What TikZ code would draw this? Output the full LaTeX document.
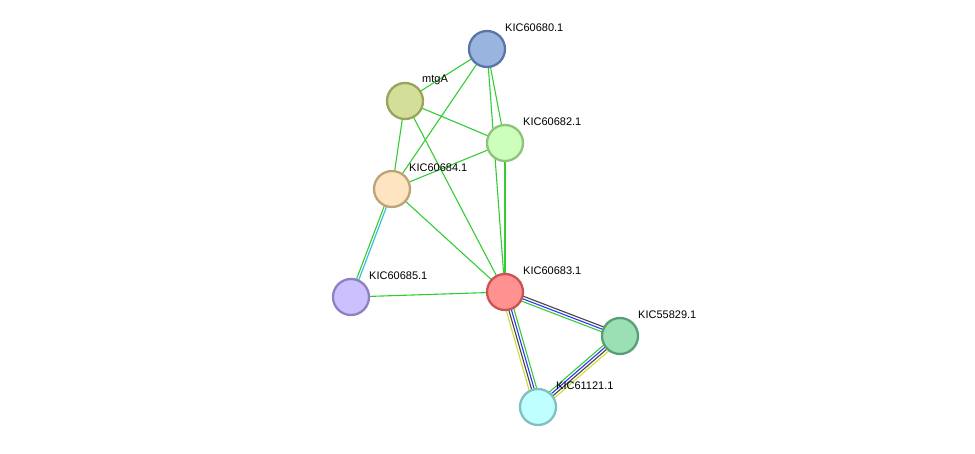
\documentclass[tikz,border=0pt]{standalone}
\usepackage{fontspec}
\setmainfont{Liberation Sans}
\usetikzlibrary{calc}
\begin{document}
\begin{tikzpicture}[x=1pt,y=-1pt,
  prot/.style={circle,minimum size=36pt,inner sep=0pt,line width=2.3pt},
  lab/.style={anchor=west,inner sep=0pt,font=\fontsize{11}{12}\selectfont},
  e/.style={line width=1.1pt}]
\useasboundingbox (0,0) rectangle (975,453);
\coordinate (p680) at (487,49);
\coordinate (pmtg) at (405,101);
\coordinate (p682) at (505,143);
\coordinate (p684) at (392,189);
\coordinate (p685) at (351,297);
\coordinate (p683) at (505,292);
\coordinate (p558) at (620,336);
\coordinate (p611) at (538,407);
\newcommand\medge[4]{\draw[e,#4] ($(#1)!#3!90:(#2)$) -- ($(#2)!#3!-90:(#1)$);}
\definecolor{eg}{HTML}{33CC33}
\definecolor{eb}{HTML}{3333FF}
\definecolor{ek}{HTML}{444444}
\definecolor{ey}{HTML}{CCDD33}
\definecolor{ec}{HTML}{33BBDD}
\foreach \a/\b in {p680/pmtg,p680/p684,pmtg/p682,pmtg/p684,pmtg/p683,p682/p684,p682/p683,p684/p683,p685/p683}
  {\draw[e,eg] (\a) -- (\b);}
\medge{p680}{p682}{0pt}{eg}
\medge{p680}{p683}{0pt}{eg}
\medge{p684}{p685}{1.2pt}{ec}
\medge{p684}{p685}{-1.2pt}{eg}
\medge{p683}{p558}{-2.6pt}{eg}
\medge{p683}{p558}{0pt}{eb}
\medge{p683}{p558}{2.6pt}{ek}
\medge{p683}{p611}{3.9pt}{eg}
\medge{p683}{p611}{1.3pt}{eb}
\medge{p683}{p611}{-1.3pt}{ek}
\medge{p683}{p611}{-3.9pt}{ey}
\medge{p558}{p611}{-3.9pt}{eg}
\medge{p558}{p611}{-1.3pt}{eb}
\medge{p558}{p611}{1.3pt}{ek}
\medge{p558}{p611}{3.9pt}{ey}
\node[prot,fill={rgb,255:red,154;green,180;blue,224},draw={rgb,255:red,90;green,116;blue,168}] (n680) at (p680) {};
\node[prot,fill={rgb,255:red,211;green,222;blue,152},draw={rgb,255:red,154;green,163;blue,90}] (nmtg) at (pmtg) {};
\node[prot,fill={rgb,255:red,204;green,255;blue,187},draw={rgb,255:red,142;green,195;blue,122}] (n682) at (p682) {};
\node[prot,fill={rgb,255:red,254;green,228;blue,192},draw={rgb,255:red,191;green,162;blue,120}] (n684) at (p684) {};
\node[prot,fill={rgb,255:red,204;green,192;blue,255},draw={rgb,255:red,143;green,128;blue,196}] (n685) at (p685) {};
\node[prot,fill={rgb,255:red,255;green,145;blue,145},draw={rgb,255:red,200;green,84;blue,84}] (n683) at (p683) {};
\node[prot,fill={rgb,255:red,154;green,224;blue,180},draw={rgb,255:red,90;green,158;blue,116}] (n558) at (p558) {};
\node[prot,fill={rgb,255:red,192;green,255;blue,255},draw={rgb,255:red,128;green,192;blue,192}] (n611) at (p611) {};
\node[lab] (l680) at (505,28) {KIC60680.1};
\node[lab] (lmtg) at (422,80) {mtgA};
\node[lab] (l682) at (523,122) {KIC60682.1};
\node[lab] (l684) at (409,168) {KIC60684.1};
\node[lab] (l685) at (369,276) {KIC60685.1};
\node[lab] (l683) at (523,271) {KIC60683.1};
\node[lab] (l558) at (638,315) {KIC55829.1};
\node[lab] (l611) at (556,386) {KIC61121.1};
\end{tikzpicture}
\end{document}
